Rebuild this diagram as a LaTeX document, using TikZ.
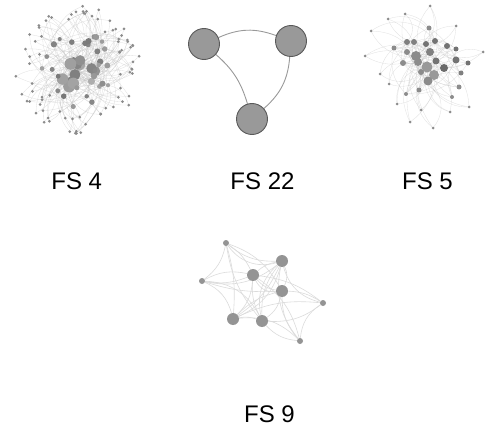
\documentclass[tikz,border=0pt]{standalone}
\usepackage{fontspec}
\setmainfont{Liberation Sans}
\pgfdeclarelayer{bg}
\pgfsetlayers{bg,main}
\tikzset{
  dot/.style={circle, inner sep=0pt, draw=none, fill=black!45},
  hair/.style={draw=black!25, line width=0.3pt, draw opacity=0.5},
  fsedge/.style={draw=black!40, line width=0.9pt},
  fsnode/.style={circle, inner sep=0pt, minimum size=31pt, fill=black!40, draw=black!65, line width=0.9pt},
  link/.style={draw=black!14, line width=0.6pt},
  lbl/.style={font=\fontsize{24}{26}\selectfont, inner sep=0pt}
}
\begin{document}
\begin{tikzpicture}[x=1pt, y=-1pt]
\useasboundingbox (0,0) rectangle (485,428);
\pgfmathsetseed{4711}

% ---------- FS 4: dense hairball ----------
\begin{scope}[shift={(77,70)}]
  \foreach \i in {1,...,14} {
    \pgfmathsetmacro\a{rnd*360}
    \pgfmathsetmacro\r{sqrt(rnd)*19}
    \pgfmathsetmacro\s{7+rnd*5}
    \pgfmathsetmacro\g{30+rnd*20}
    \node[dot, minimum size=\s pt, fill=black!\g] (ac\i) at (\a:\r) {};
  }
  \foreach \i in {1,...,30} {
    \pgfmathsetmacro\a{rnd*360}
    \pgfmathsetmacro\r{17+rnd*22}
    \pgfmathsetmacro\s{4+rnd*2.5}
    \pgfmathsetmacro\g{36+rnd*18}
    \node[dot, minimum size=\s pt, fill=black!\g] (am\i) at (\a:\r) {};
  }
  \foreach \i in {1,...,80} {
    \pgfmathsetmacro\a{rnd*360}
    \pgfmathsetmacro\r{36+sqrt(rnd)*28}
    \node[dot, minimum size=3pt, fill=black!45] (ao\i) at (\a:\r) {};
  }
\end{scope}
\begin{pgfonlayer}{bg}
  \foreach \i in {1,...,80} {
    \pgfmathtruncatemacro\j{random(1,14)}
    \pgfmathtruncatemacro\k{random(1,30)}
    \draw[hair] (ao\i) to[bend left=38] (ac\j);
    \draw[hair] (ao\i) to[bend right=30] (am\k);
  }
  \foreach \i in {1,...,30} {
    \pgfmathtruncatemacro\j{random(1,14)}
    \pgfmathtruncatemacro\k{random(1,14)}
    \draw[hair] (am\i) to[bend left=30] (ac\j);
    \draw[hair] (am\i) to[bend right=25] (ac\k);
  }
  \foreach \i in {1,...,14} {
    \pgfmathtruncatemacro\j{mod(\i+random(1,13)-1,14)+1}
    \draw[hair] (ac\i) to[bend left=20] (ac\j);
  }
\end{pgfonlayer}

% ---------- FS 22: three nodes ----------
\node[fsnode] (bl) at (204,44) {};
\node[fsnode] (br) at (291,41) {};
\node[fsnode] (bb) at (252,119) {};
\begin{pgfonlayer}{bg}
  \draw[fsedge] (bl) to[bend left=22] (br);
  \draw[fsedge] (br) to[bend left=22] (bb);
  \draw[fsedge] (bl) to[bend left=16] (bb);
\end{pgfonlayer}

% ---------- FS 5: star-shaped cluster ----------
\foreach \n/\x/\y/\d/\g in {
  c1/427/67/11/40, c2/416/56/10/45, c3/418/62/8/45, c4/434/75/10/40,
  c5/428/81/9/45, c6/444/68/8/58, c7/430/52/8/50, c8/436/61/7/55,
  c9/407/42/6/50, c10/414/42/6/50, c11/426/44/6/55, c12/435/41/6/55,
  c13/447/46/6/55, c14/456/49/5/55, c15/456/60/7/55, c16/468/63/5/55,
  c17/461/73/5/50, c18/459/87/5/45, c19/452/97/4/45, c20/407/52/6/45,
  c21/394/48/5/45, c22/403/63/6/45, c23/421/72/6/45, c24/419/90/5/45,
  c25/406/94/4/45, c26/429/28/5/45} {
  \node[dot, minimum size=\d pt, fill=black!\g] (\n) at (\x,\y) {};
}
\foreach \n/\x/\y in {
  o1/430/6, o2/405/14, o3/388/19, o4/371/31, o5/456/26, o6/365/56,
  o7/483/52, o8/380/74, o9/389/84, o10/397/104, o11/421/110,
  o12/410/122, o13/433/128, o14/450/112, o15/469/107} {
  \node[dot, minimum size=3pt, fill=black!45] (\n) at (\x,\y) {};
}
\begin{pgfonlayer}{bg}
  \foreach \i in {1,...,15} {
    \foreach \t/\b in {1/42,2/-42,3/30} {
      \pgfmathtruncatemacro\j{random(1,12)}
      \draw[hair] (o\i) to[bend left=\b] (c\j);
    }
  }
  \foreach \i in {1,...,26} {
    \foreach \t in {1,2,3} {
      \pgfmathtruncatemacro\j{mod(\i+random(1,25)-1,26)+1}
      \draw[hair] (c\i) to[bend left=28] (c\j);
    }
  }
\end{pgfonlayer}

% ---------- FS 9: small web ----------
\foreach \n/\x/\y/\d in {
  n1/226/243/6, n2/202/281/6, n3/253/275/12, n4/282/261/12, n5/282/291/12,
  n6/323/303/6, n7/233/319/12, n8/262/321/12, n9/300/341/6} {
  \node[dot, minimum size=\d pt, fill=black!42] (\n) at (\x,\y) {};
}
\begin{pgfonlayer}{bg}
  \foreach \a/\b/\c in {
    n1/n2/20, n1/n3/15, n1/n4/-20, n1/n7/10, n1/n8/-15, n1/n5/20,
    n2/n3/-15, n2/n3/20, n2/n4/-25, n2/n7/25, n2/n8/30, n2/n5/-10,
    n3/n4/15, n3/n5/-20, n3/n7/20, n3/n8/-15, n3/n6/15, n3/n9/20,
    n4/n5/25, n4/n6/-30, n4/n7/15, n4/n8/-20, n4/n9/-25, n4/n1/35,
    n5/n6/15, n5/n7/-15, n5/n8/20, n5/n9/-20, n5/n3/35,
    n6/n9/-25, n6/n8/20, n6/n7/-15,
    n7/n8/15, n7/n9/25, n8/n9/-20, n7/n4/-25, n8/n4/30} {
    \draw[link] (\a) to[bend left=\c] (\b);
  }
\end{pgfonlayer}

% ---------- labels ----------
\node[lbl] (t4) at (76.7,181) {FS 4};
\node[lbl] (t22) at (262.5,181) {FS 22};
\node[lbl] (t5) at (427.5,181) {FS 5};
\node[lbl] (t9) at (269.5,414) {FS 9};
\end{tikzpicture}
\end{document}
